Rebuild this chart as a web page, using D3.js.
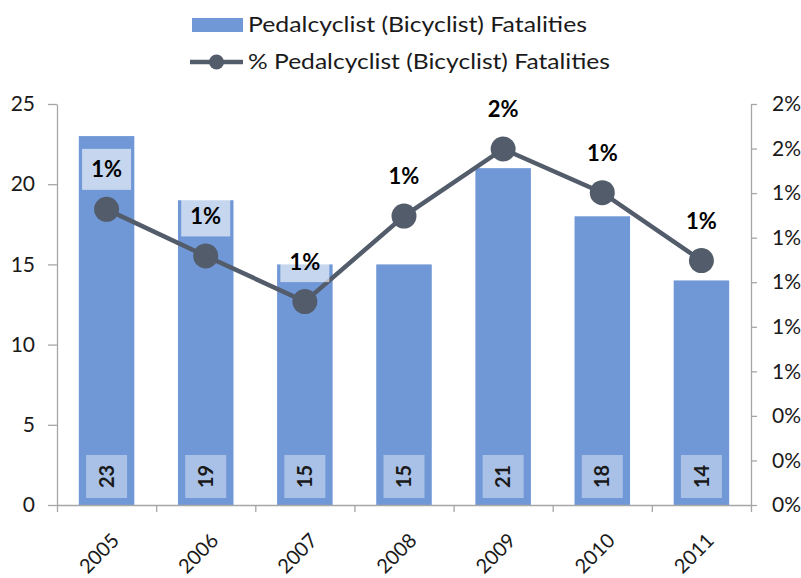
<!DOCTYPE html>
<html><head><meta charset="utf-8">
<script src="https://cdn.jsdelivr.net/npm/d3@7"></script>
<style>body{margin:0;background:#fff;} text{font-family:Lato, "Liberation Sans", sans-serif;}</style>
</head><body>
<svg id="c" width="801" height="578"></svg>
<script>
const years = ["2005","2006","2007","2008","2009","2010","2011"];
const fatalities = [23,19,15,15,21,18,14];
const pctFatalities = [1.327,1.118,0.913,1.297,1.598,1.402,1.097];
const leftTicks = [0,5,10,15,20,25];
const rightTicks = [0,0.2,0.4,0.6,0.8,1.0,1.2,1.4,1.6,1.8];
const seriesNames = ["Pedalcyclist (Bicyclist) Fatalities","% Pedalcyclist (Bicyclist) Fatalities"];

const svg = d3.select("#c");
const m = {l:57, r:751, t:104, b:505};
const barColor = "#7198d6", lineColor = "#535c6b", axisColor = "#a6a6a6", textColor = "#1a1a1a";

const x = d3.scaleBand().domain(years).range([m.l, m.r]).paddingInner(0.44).paddingOuter(0.22);
const yL = d3.scaleLinear().domain([0,25]).range([m.b, m.t]);
const yR = d3.scaleLinear().domain([0,1.8]).range([m.b, m.t]);

// bars
svg.append("g").selectAll("rect").data(years).join("rect")
  .attr("x", d=>x(d)).attr("width", x.bandwidth())
  .attr("y", (d,i)=>yL(fatalities[i])).attr("height", (d,i)=>m.b - yL(fatalities[i]))
  .attr("fill", barColor);

// bar value labels
const bl = svg.append("g").selectAll("g").data(years).join("g")
  .attr("transform", d=>`translate(${x(d)+x.bandwidth()/2},${m.b-28.5})`);
bl.append("rect").attr("x",-20.5).attr("y",-21.5).attr("width",41).attr("height",43)
  .attr("fill","#fff").attr("fill-opacity",0.4);
bl.append("text").attr("transform","rotate(-90)").attr("text-anchor","middle").attr("dy","0.36em")
  .style("font-size","20px").style("font-weight","bold").attr("fill",textColor)
  .text((d,i)=>fatalities[i]);

// axes
const axL = svg.append("g").attr("transform",`translate(${m.l},0)`)
  .call(d3.axisLeft(yL).tickValues(leftTicks).tickSize(9).tickPadding(13).tickSizeOuter(0));
const axR = svg.append("g").attr("transform",`translate(${m.r},0)`)
  .call(d3.axisRight(yR).tickValues(rightTicks).tickSize(6).tickPadding(15).tickSizeOuter(0)
  .tickFormat(d=>Math.round(d)+"%"));
const xTickScale = d3.scaleLinear().domain([0,7]).range([m.l, m.r]);
const axB = svg.append("g").attr("transform",`translate(0,${m.b})`)
  .call(d3.axisBottom(xTickScale).tickValues([0,1,2,3,4,5,6,7]).tickSize(7).tickFormat("").tickSizeOuter(0));
[axL,axR,axB].forEach(a=>{
  a.selectAll("path,line").attr("stroke",axisColor).attr("stroke-width",1.3);
  a.selectAll("text").attr("fill",textColor).style("font-size","21px").style("font-family","Lato, sans-serif");
});
// x labels
svg.append("g").selectAll("text").data(years).join("text")
  .attr("transform", d=>`translate(${x(d)+x.bandwidth()/2+4},${m.b+27}) rotate(-45)`)
  .attr("text-anchor","end").attr("dy","0.7em")
  .style("font-size","20px").attr("fill",textColor).text(d=>d);

// line
const line = d3.line().x((d,i)=>x(years[i])+x.bandwidth()/2).y(d=>yR(d));
svg.append("path").datum(pctFatalities).attr("d",line).attr("fill","none")
  .attr("stroke",lineColor).attr("stroke-width",4.5);
svg.append("g").selectAll("circle").data(pctFatalities).join("circle")
  .attr("cx",(d,i)=>x(years[i])+x.bandwidth()/2).attr("cy",d=>yR(d)).attr("r",12.5)
  .attr("fill",lineColor);

// pct labels
const pl = svg.append("g").selectAll("g").data(pctFatalities).join("g")
  .attr("transform",(d,i)=>`translate(${x(years[i])+x.bandwidth()/2},${yR(d)-40})`);
pl.append("rect").attr("x",-24.5).attr("y",-20.5).attr("width",49).attr("height",41)
  .attr("fill","#fff").attr("fill-opacity",0.6);
pl.append("text").attr("text-anchor","middle").attr("dy","0.36em")
  .style("font-size","22px").style("font-weight","bold").attr("fill","#000")
  .text(d=>Math.round(d)+"%");

// legend
const lg = svg.append("g");
lg.append("rect").attr("x",192).attr("y",18).attr("width",51).attr("height",14).attr("fill",barColor);
lg.append("text").attr("x",248).attr("y",32).style("font-size","22px").attr("fill",textColor)
  .attr("textLength",339).attr("lengthAdjust","spacingAndGlyphs").text(seriesNames[0]);
lg.append("line").attr("x1",190).attr("x2",243).attr("y1",62).attr("y2",62).attr("stroke",lineColor).attr("stroke-width",4.5);
lg.append("circle").attr("cx",216.5).attr("cy",62).attr("r",7.5).attr("fill",lineColor);
lg.append("text").attr("x",248).attr("y",69).style("font-size","22px").attr("fill",textColor)
  .attr("textLength",362).attr("lengthAdjust","spacingAndGlyphs").text(seriesNames[1]);
</script>
</body></html>
